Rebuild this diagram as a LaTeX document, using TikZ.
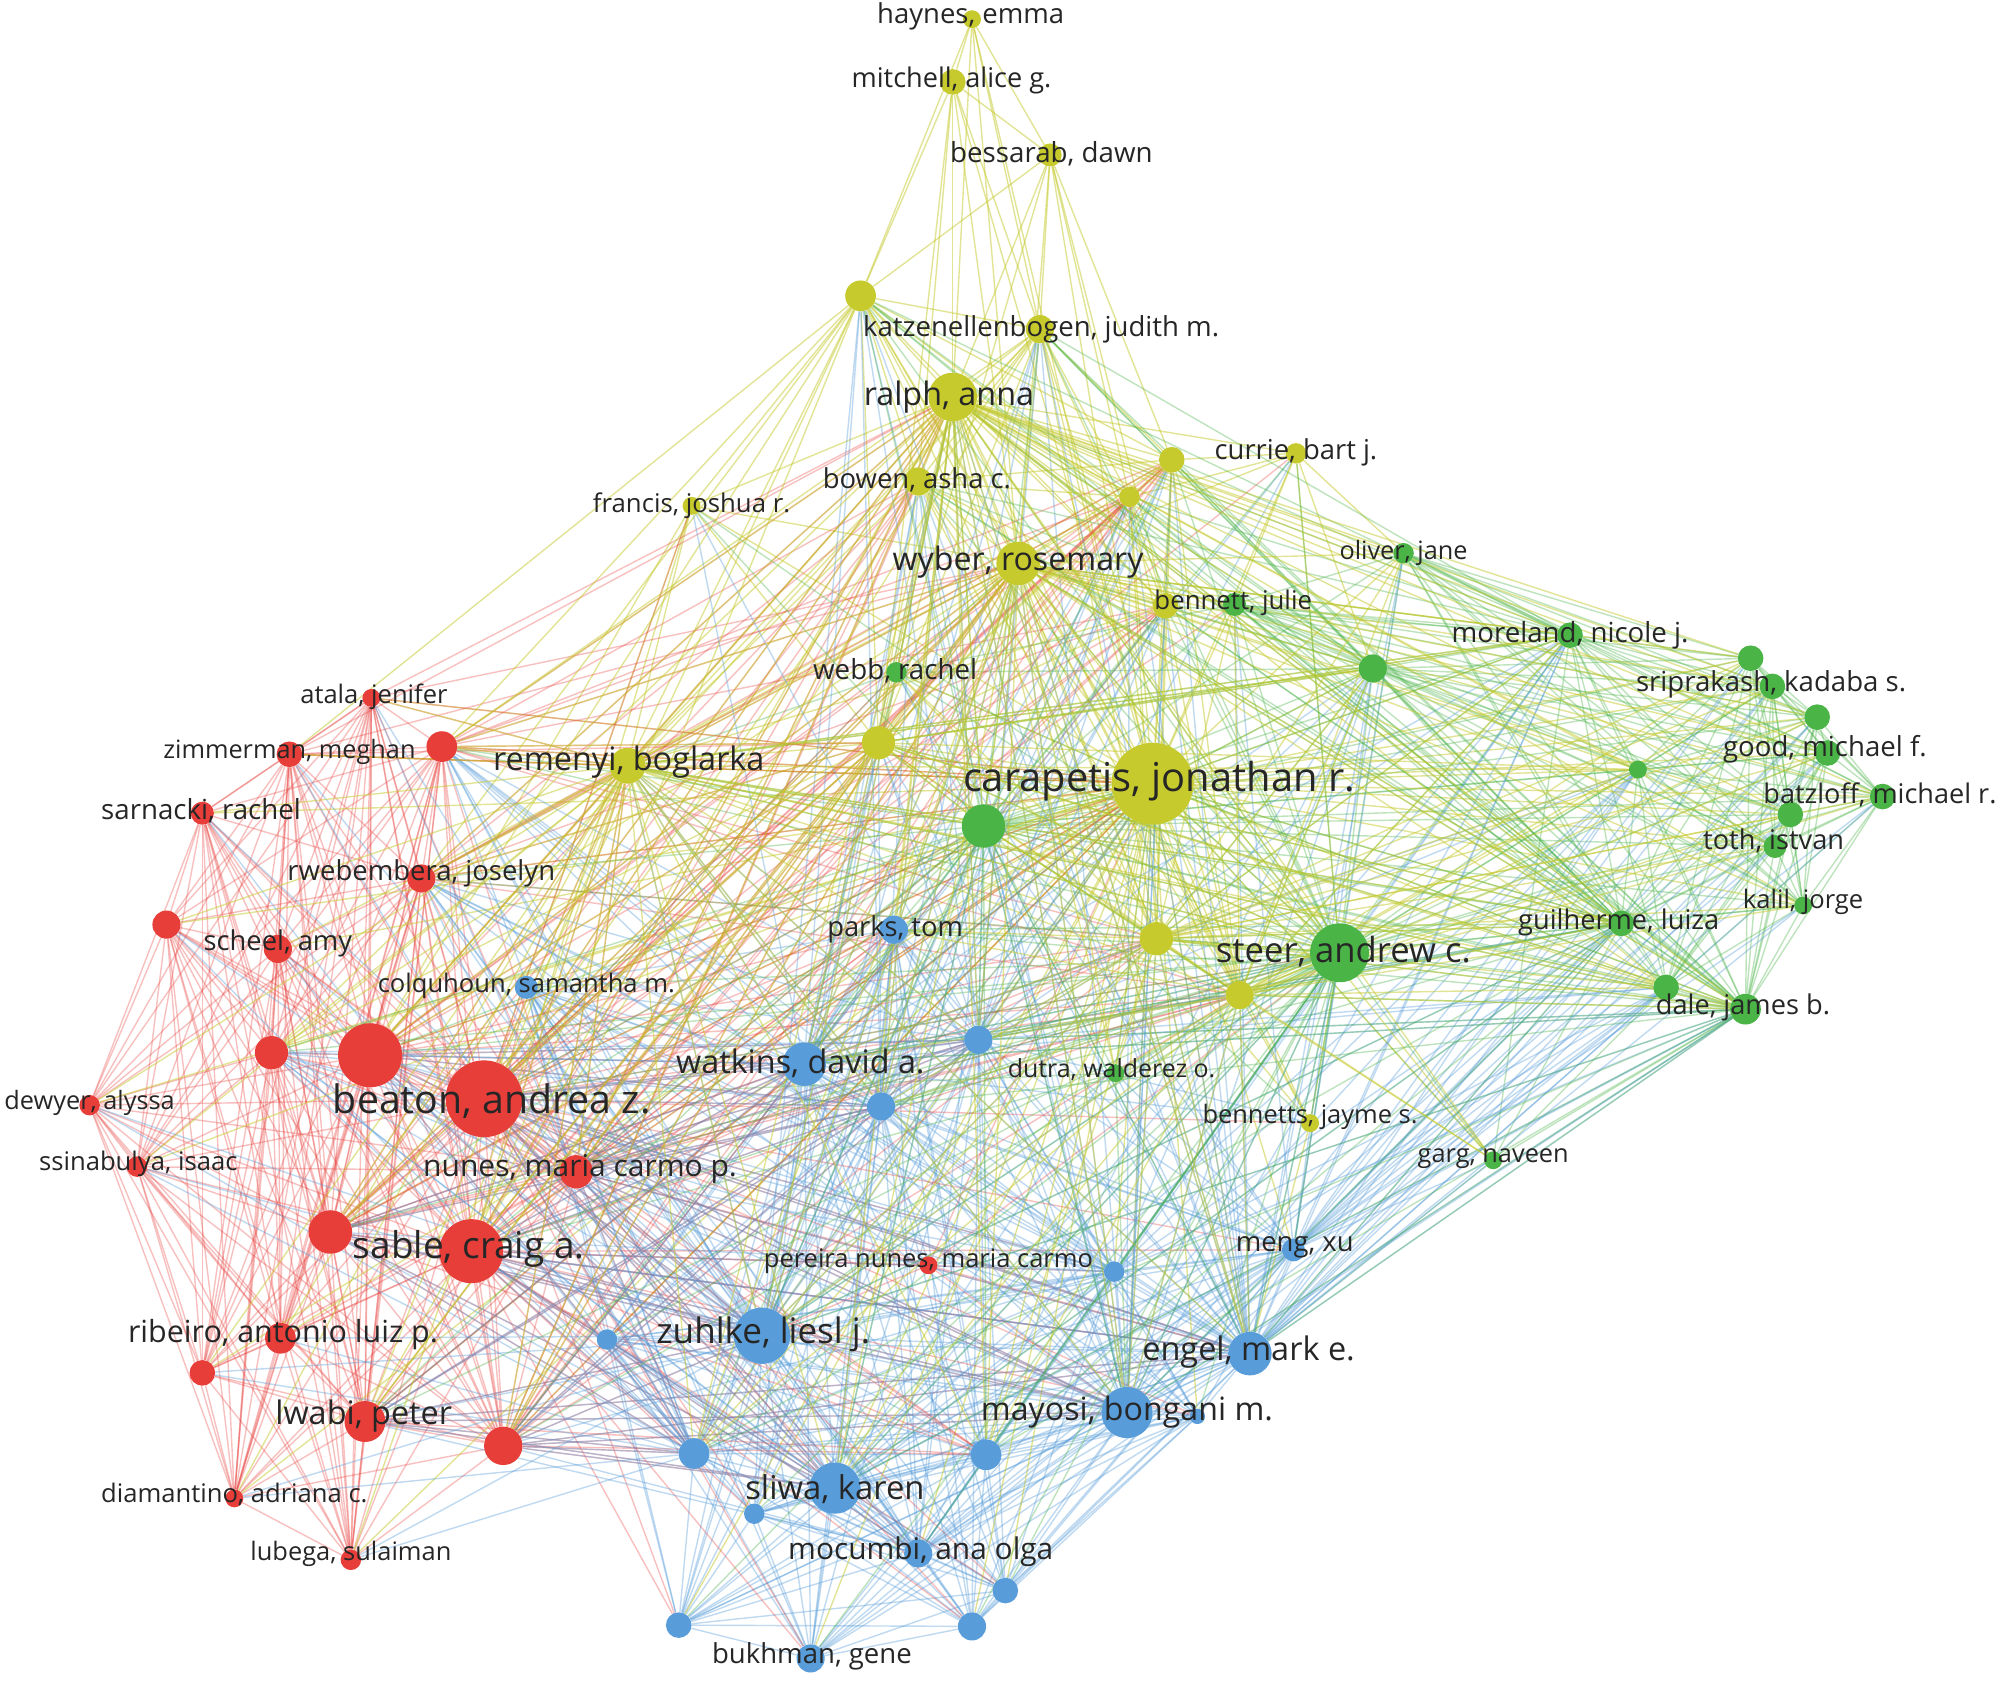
\documentclass[tikz,border=0pt]{standalone}
\usepackage{fontspec}
\setmainfont{Open Sans}
\usepackage{graphicx}
\definecolor{vred}{RGB}{232,62,58}
\definecolor{vgreen}{RGB}{74,180,70}
\definecolor{vblue}{RGB}{88,157,218}
\definecolor{vyellow}{RGB}{198,202,44}
\pgfdeclarelayer{edges}
\pgfsetlayers{edges,main}
\tikzset{
  edge/.style={line width=1.1pt, draw opacity=0.34},
  ered/.style={edge, draw=vred, draw opacity=0.32},
  eyellow/.style={edge, draw=vyellow, draw opacity=0.5},
  egreen/.style={edge, draw=vgreen, draw opacity=0.36},
  eblue/.style={edge, draw=vblue, draw opacity=0.38},
  dot/.style={circle, inner sep=0pt, draw=none},
  lab/.style={inner sep=0pt, text=black!85, font=\fontsize{20}{24}\selectfont},
}
\newcommand\fullconnect[2]{\edef\fctmp{#2}%
  \foreach \a [count=\i] in \fctmp {\foreach \b [count=\j] in \fctmp {\ifnum\j>\i\relax\draw[#1] (\a) -- (\b);\fi}}}
\newcommand\linkto[3]{\edef\lktmp{#3}%
  \foreach \b in \lktmp {\draw[#2] (#1) -- (\b);}}
\def\Rall{r1,r2,r3,r4,r5,r6,r7,r8,r9,r10,r11,r12,r13,r14,r15,r16,r17,r18,r19,r20,r21}
\def\Rcore{r3,r5,r8,r9,r10,r13,r14,r15,r18,r19}
\def\Ycore{y4,y5,y6,y8,y9,y10,y12,y13,y14,y15,y16,y17,y18}
\def\Ylow{y6,y8,y9,y10,y12,y13,y14,y15,y16,y17,y18}
\def\Yall{\Ycore,y7,y11,y19}
\def\Gfull{g1,g2,g3,g4,g6,g7,g8,g9,g10,g11,g12,g13,g14,g15,g16,g17,g18,g19}
\def\Gall{\Gfull,g5,g20,g21}
\def\Gcore{g3,g4,g10,g15,g16,g17,g18,g19}
\def\Ball{b1,b2,b3,b4,b5,b6,b7,b9,b10,b11,b12,b13,b14,b15,b16,b17,b18,b19,b20,b21,b22}
\def\Bcore{b1,b3,b4,b5,b10,b11,b12,b14,b15,b16}
\def\nodedata{%
y1/759/15/7/vyellow,y2/744/64/10/vyellow,y3/820/121/9/vyellow,y4/672/231/12/vyellow,y5/812/257/11/vyellow,%
y6/744/310/19/vyellow,y7/1012/354/8/vyellow,y8/915/359/10/vyellow,y9/882/388/8/vyellow,y10/717/376/11/vyellow,%
y11/540/395/7/vyellow,y12/795/440/17/vyellow,y13/910/473/10/vyellow,y14/686/580/13/vyellow,y15/490/598/14/vyellow,%
y16/900/612/32/vyellow,y17/903/733/13/vyellow,y18/968/777/11/vyellow,y19/1023/877/7/vyellow,%
g1/1096/432/8/vgreen,g2/964/472/9/vgreen,g3/1072/522/11/vgreen,g4/1226/496/10/vgreen,g5/700/525/8/vgreen,%
g6/1367/514/10/vgreen,g7/1384/536/10/vgreen,g8/1419/560/10/vgreen,g9/1427/588/10/vgreen,g10/1279/601/7/vgreen,%
g11/1470/622/10/vgreen,g12/1398/636/10/vgreen,g13/1386/661/9/vgreen,g14/1408/707/7/vgreen,g15/1266/721/10/vgreen,%
g16/768/645/17/vgreen,g17/1046/744/23/vgreen,g18/1301/771/10/vgreen,g19/1363/788/12/vgreen,g20/871/838/7/vgreen,%
g21/1166/906/7/vgreen,%
b1/698/726/11/vblue,b2/411/771/9/vblue,b3/764/812/11/vblue,b4/628/831/17/vblue,b5/688/864/11/vblue,%
b6/1010/976/9/vblue,b7/870/993/8/vblue,b9/474/1046/8/vblue,b10/595/1043/22/vblue,b11/976/1057/17/vblue,%
b12/880/1103/20/vblue,b13/935/1106/6/vblue,b14/542/1135/12/vblue,b15/770/1136/12/vblue,b16/652/1162/20/vblue,%
b17/589/1182/8/vblue,b18/717/1213/11/vblue,b19/785/1242/10/vblue,b20/530/1269/10/vblue,b21/759/1270/11/vblue,%
b22/633/1295/11/vblue,%
r1/290/545/7/vred,r2/226/589/10/vred,r3/345/583/12/vred,r4/158/635/9/vred,r5/329/686/11/vred,%
r6/130/722/11/vred,r7/217/741/11/vred,r8/212/822/13/vred,r9/289/824/25/vred,r10/378/858/30/vred,%
r11/70/863/8/vred,r12/107/911/8/vred,r13/450/915/13/vred,r14/258/962/17/vred,r15/368/977/25/vred,%
r16/219/1045/12/vred,r17/158/1072/10/vred,r18/285/1110/16/vred,r19/393/1129/15/vred,r20/183/1170/7/vred,%
r21/274/1218/8/vred,r22/725/988/7/vred}
\def\labeldata{%
y1/758/13/146/{haynes, emma},y2/743/63/156/{mitchell, alice g.},y3/821/120/158/{bessarab, dawn},%
y5/813/257/278/{katzenellenbogen, judith m.},y6/741/310/133/{ralph, anna},y7/1012/353/127/{currie, bart j.},%
y10/716/375/147/{bowen, asha c.},y11/540/395/154/{francis, joshua r.},y12/795/439/196/{wyber, rosemary},%
y15/491/595/212/{remenyi, boglarka},y16/905/610/306/{carapetis, jonathan r.},y19/1023/872/168/{bennetts, jayme s.},%
g1/1096/432/100/{oliver, jane},g2/963/471/123/{bennett, julie},g4/1226/496/185/{moreland, nicole j.},%
g5/699/524/128/{webb, rachel},g7/1383/534/211/{sriprakash, kadaba s.},g9/1425/585/159/{good, michael f.},%
g11/1468/621/182/{batzloff, michael r.},g13/1385/657/110/{toth, istvan},g14/1408/704/94/{kalil, jorge},%
g15/1264/720/157/{guilherme, luiza},g17/1049/743/199/{steer, andrew c.},g19/1361/787/136/{dale, james b.},%
g20/868/835/162/{dutra, walderez o.},g21/1166/905/118/{garg, naveen},%
b1/699/726/106/{parks, tom},b2/411/770/232/{colquhoun, samantha m.},b4/625/830/194/{watkins, david a.},%
b6/1011/974/92/{meng, xu},b10/596/1042/167/{zuhlke, liesl j.},b11/975/1056/166/{engel, mark e.},%
b12/880/1103/228/{mayosi, bongani m.},b16/652/1163/140/{sliwa, karen},b18/719/1212/207/{mocumbi, ana olga},%
b22/634/1293/156/{bukhman, gene},%
r1/292/544/115/{atala, jenifer},r2/226/587/197/{zimmerman, meghan},r4/157/633/156/{sarnacki, rachel},%
r5/329/682/209/{rwebembera, joselyn},r7/217/737/116/{scheel, amy},r10/384/860/248/{beaton, andrea z.},%
r11/70/861/133/{dewyer, alyssa},r12/108/909/155/{ssinabulya, isaac},r13/453/913/245/{nunes, maria carmo p.},%
r15/366/975/181/{sable, craig a.},r16/221/1042/242/{ribeiro, antonio luiz p.},r18/284/1106/138/{lwabi, peter},%
r20/183/1167/208/{diamantino, adriana c.},r21/274/1213/157/{lubega, sulaiman},%
r22/725/985/257/{pereira nunes, maria carmo}}
\begin{document}
\begin{tikzpicture}[x=1pt,y=-1pt]
\useasboundingbox (0,0) rectangle (1568,1320);
% nodes
\foreach \n/\x/\y/\r/\c in \nodedata {
  \node[dot, fill=\c, minimum size={2*\r pt}] (\n) at (\x,\y) {};
}
% connectors
\begin{pgfonlayer}{edges}
\fill[white] (0,0) rectangle (1568,1320);
\fullconnect{ered}{\Rall}
\fullconnect{eyellow}{\Ycore}
\fullconnect{egreen}{\Gfull}
\fullconnect{eblue}{\Ball}
\linkto{y1}{eyellow}{y2,y3,y4,y5,y6,y12,y16}
\linkto{y2}{eyellow}{y3,y4,y5,y6,y10,y12,y16,y14}
\linkto{y3}{eyellow}{y4,y5,y6,y8,y9,y12,y16,y14,y13}
\linkto{y7}{eyellow}{y8,y9,y16,y12,y6,g1,g2,g3,g17}
\linkto{y11}{eyellow}{y4,y6,y12,y15,y16,y14,r9,r10,r15}
\linkto{y19}{eyellow}{y16,y12,g17,y18,y17,b11}
\linkto{g5}{egreen}{g16,g17,y16,y12,y6,y15,b4,r10,g2,g3}
\linkto{g20}{egreen}{g17,g16,y16,r10,r15,b10,b12,g15}
\linkto{g21}{egreen}{g17,g19,g15,g18,g4,y16,b11}
\linkto{r22}{ered}{r10,r15,r13,b10,b12,y16,b11,g17}
\linkto{y16}{eyellow}{\Rall,\Gall,\Ball}
\linkto{r10}{ered}{\Ylow,y7,y11,y19,\Ball,g16,g17,g5,g2}
\linkto{r15}{ered}{\Ylow,\Ball}
\linkto{r9}{ered}{\Ylow,\Bcore}
\linkto{r13}{ered}{\Ylow,\Bcore,g16,g17}
\linkto{r3}{ered}{\Ylow}
\linkto{r5}{ered}{\Ylow}
\linkto{r2}{ered}{y6,y12,y14,y15,y16}
\linkto{r1}{ered}{y6,y12,y15,y16}
\linkto{r14}{ered}{\Ylow,\Bcore}
\linkto{r19}{ered}{\Bcore,\Ylow}
\linkto{r18}{ered}{\Bcore,y16,y12}
\linkto{y4}{eyellow}{r3,r5,r9,r10,r15,r2}
\linkto{y5}{eyellow}{r3,r9,r10,r15}
\linkto{b10}{eblue}{\Rall,\Ycore,g16,g17,g15,g19}
\linkto{b4}{eblue}{\Rcore,\Yall,\Gcore}
\linkto{b12}{eblue}{\Rcore,\Gcore,\Ycore}
\linkto{b11}{eblue}{\Rcore,\Gall,\Ycore}
\linkto{b16}{eblue}{\Gcore,\Rcore}
\linkto{b14}{eblue}{\Rall}
\linkto{b6}{eblue}{\Gall}
\linkto{b7}{eblue}{\Gcore,\Rcore}
\linkto{b18}{eblue}{\Gcore,\Rcore}
\linkto{b3}{eblue}{\Rcore,\Yall,\Gcore}
\linkto{b5}{eblue}{\Rcore,\Ycore}
\linkto{g17}{egreen}{\Yall,\Ball,\Rcore}
\linkto{g16}{egreen}{\Yall,\Bcore,\Rcore}
\linkto{g3}{egreen}{\Ycore}
\linkto{g4}{egreen}{\Ycore}
\linkto{g15}{egreen}{\Ycore,\Bcore}
\linkto{g19}{egreen}{\Ycore,\Bcore}
\linkto{y12}{eyellow}{\Rcore,\Gall,\Bcore}
\linkto{y6}{eyellow}{\Rcore,\Gall,\Bcore}
\linkto{y15}{eyellow}{\Rall,\Bcore,\Gcore}
\linkto{y14}{eyellow}{\Rcore,\Gcore}
\linkto{y17}{eyellow}{\Gall,\Bcore}
\linkto{y18}{eyellow}{\Gall,\Bcore}
\end{pgfonlayer}
% labels
\foreach \n/\x/\y/\w/\t in \labeldata {
  \node[lab] (l\n) at (\x,\y) {\resizebox{\w pt}{!}{\t}};
}
\end{tikzpicture}
\end{document}
